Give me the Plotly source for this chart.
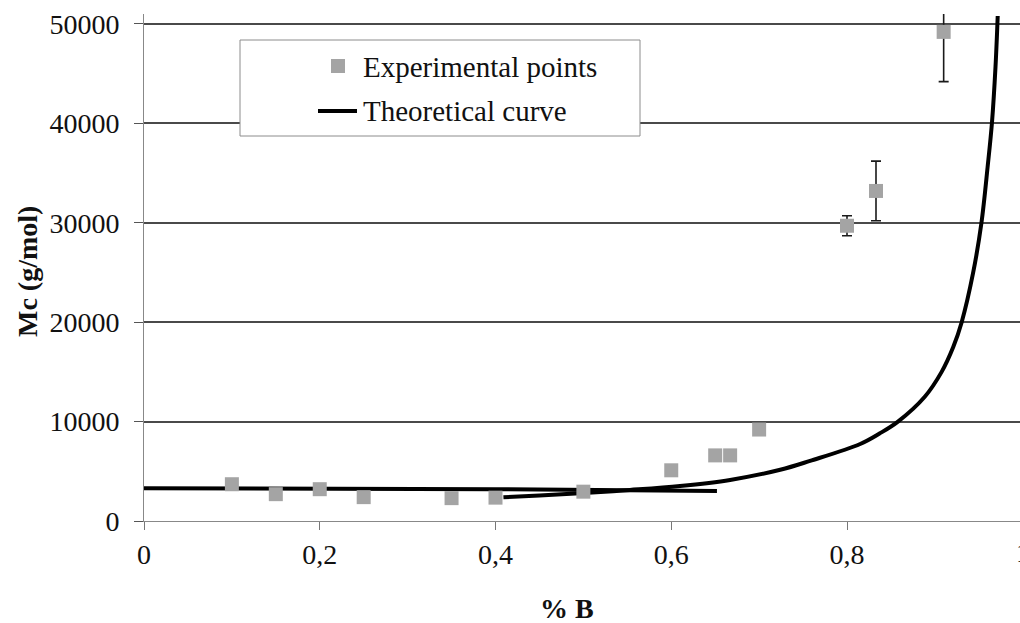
import plotly.graph_objects as go

# Experimental crosslink molar mass vs. fraction of B
x_exp = [0.10, 0.15, 0.20, 0.25, 0.35, 0.40, 0.50, 0.60, 0.65, 0.667, 0.70, 0.80, 0.833, 0.91]
y_exp = [3700, 2700, 3200, 2400, 2300, 2350, 2950, 5100, 6600, 6600, 9200, 29700, 33200, 49200]
err_exp = [0, 0, 0, 0, 0, 0, 0, 0, 0, 0, 0, 1000, 3000, 5000]

# Theoretical curve: low-B plateau and the diverging branch
x_flat = [0.0, 0.2, 0.4, 0.652]
y_flat = [3300, 3250, 3200, 3030]

x_theo = [0.409, 0.45, 0.496, 0.553, 0.610, 0.667, 0.724, 0.758, 0.815, 0.837, 0.858,
          0.8885, 0.9077, 0.9209, 0.9305, 0.9436, 0.953, 0.960, 0.965, 0.969, 0.9715]
y_theo = [2380, 2570, 2790, 3120, 3520, 4130, 5150, 6050, 7750, 8800, 10000,
          12500, 15000, 17500, 20000, 25000, 30000, 35600, 40100, 45700, 50800]

x_ticks = [0, 0.2, 0.4, 0.6, 0.8]
x_ticktext = ["0", "0,2", "0,4", "0,6", "0,8"]
y_ticks = [0, 10000, 20000, 30000, 40000, 50000]
y_ticktext = ["0", "10000", "20000", "30000", "40000", "50000"]

legend_labels = ["Experimental points", "Theoretical curve"]

FONT = "Liberation Serif"
TEXT = "#111111"
W, H = 1020, 623
ML, MR, MT, MB = 144, 0, 14, 102
PW, PH = W - ML - MR, H - MT - MB


def px(x):
    return (x - ML) / PW


def py(y):
    return (H - MB - y) / PH


fig = go.Figure()

fig.add_trace(go.Scatter(
    x=x_flat, y=y_flat, mode="lines",
    line=dict(color="#000000", width=4),
    showlegend=False,
))
fig.add_trace(go.Scatter(
    x=x_theo, y=y_theo, mode="lines",
    line=dict(color="#000000", width=4, shape="spline", smoothing=1.0),
    showlegend=False,
))
fig.add_trace(go.Scatter(
    x=x_exp, y=y_exp, mode="markers",
    marker=dict(symbol="square", size=14, color="#a4a4a4"),
    error_y=dict(type="data", array=err_exp, color="#1a1a1a", thickness=1.6, width=5),
    showlegend=False,
))

# Legend box drawn on top of the grid
shapes = [
    dict(type="rect", xref="paper", yref="paper",
         x0=px(240), x1=px(640), y0=py(136), y1=py(40),
         fillcolor="white", line=dict(color="#8c8c8c", width=1), layer="above"),
    dict(type="rect", xref="paper", yref="paper",
         x0=px(331), x1=px(345), y0=py(73), y1=py(59),
         fillcolor="#a4a4a4", line=dict(width=0), layer="above"),
    dict(type="line", xref="paper", yref="paper",
         x0=px(318), x1=px(357), y0=py(111), y1=py(111),
         line=dict(color="#000000", width=4), layer="above"),
]

annotations = [
    dict(text=legend_labels[0], xref="paper", yref="paper", x=px(361), y=py(67),
         xanchor="left", yanchor="middle", showarrow=False,
         font=dict(family=FONT, size=29, color=TEXT)),
    dict(text=legend_labels[1], xref="paper", yref="paper", x=px(361), y=py(111),
         xanchor="left", yanchor="middle", showarrow=False,
         font=dict(family=FONT, size=29, color=TEXT)),
    dict(text="<b>% B</b>", xref="paper", yref="paper", x=px(567), y=py(608),
         xanchor="center", yanchor="middle", showarrow=False,
         font=dict(family=FONT, size=28, color=TEXT)),
    dict(text="<b>Mc (g/mol)</b>", xref="paper", yref="paper", x=px(28), y=py(272),
         xanchor="center", yanchor="middle", showarrow=False, textangle=-90,
         font=dict(family=FONT, size=28, color=TEXT)),
    # tick label at x = 1, mostly beyond the right edge
    dict(text="1", xref="paper", yref="paper", x=px(1023), y=py(552),
         xanchor="center", yanchor="middle", showarrow=False,
         font=dict(family=FONT, size=28, color=TEXT)),
]

fig.update_layout(
    width=W, height=H,
    margin=dict(l=ML, r=MR, t=MT, b=MB, pad=0),
    paper_bgcolor="white", plot_bgcolor="white",
    font=dict(family=FONT, size=28, color=TEXT),
    showlegend=False,
    shapes=shapes,
    annotations=annotations,
)

fig.update_xaxes(
    range=[0, PW / 878.75],
    tickvals=x_ticks, ticktext=x_ticktext,
    tickfont=dict(family=FONT, size=28, color=TEXT),
    ticks="outside", ticklen=8, tickcolor="#777777", tickwidth=1,
    showline=True, linecolor="#888888", linewidth=1,
    showgrid=False, zeroline=False,
    ticklabelstandoff=0,
)
fig.update_yaxes(
    range=[0, 51000],
    tickvals=y_ticks, ticktext=y_ticktext,
    tickfont=dict(family=FONT, size=28, color=TEXT),
    ticks="outside", ticklen=9, tickcolor="#555555", tickwidth=1,
    showline=True, linecolor="#888888", linewidth=1,
    showgrid=True, gridcolor="#4a4a4a", gridwidth=1.5,
    zeroline=False,
    ticklabelstandoff=9,
)

fig.write_html("out.html")
